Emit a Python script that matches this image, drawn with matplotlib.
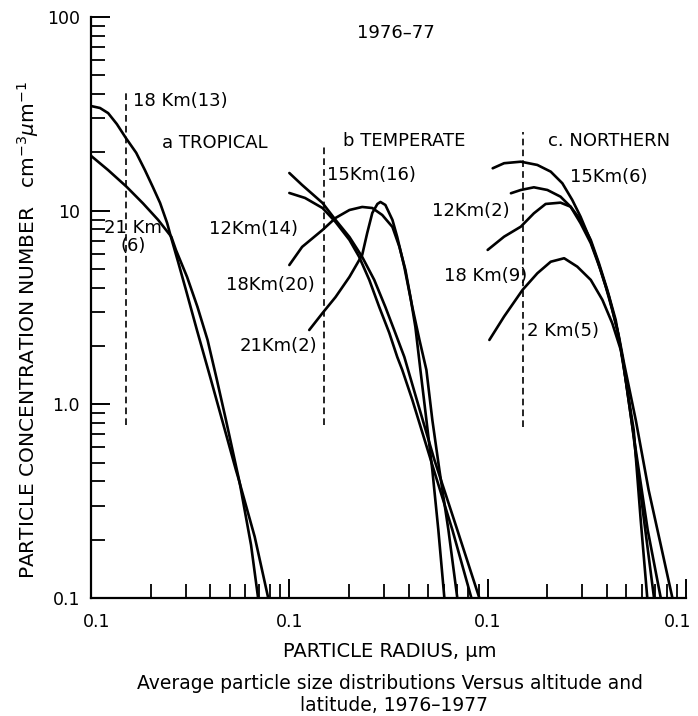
import matplotlib
matplotlib.use("Agg")
import matplotlib.pyplot as plt
from matplotlib.ticker import FixedLocator, FixedFormatter, LogLocator, NullFormatter
from matplotlib.transforms import ScaledTranslation

# particle radius (um) and concentration (cm^-3 um^-1), one list pair per curve
# a TROPICAL
trop_18_r = [0.100, 0.111, 0.122, 0.135, 0.150, 0.169, 0.187, 0.205, 0.223, 0.242, 0.253, 0.275,
             0.301, 0.342, 0.400, 0.458, 0.538, 0.551, 0.669, 0.781]
trop_18_n = [34.7, 33.9, 31.9, 28.0, 23.7, 19.9, 16.2, 13.25, 10.96, 8.64, 7.31, 5.43,
             3.90, 2.42, 1.37, 0.831, 0.458, 0.422, 0.207, 0.101]
trop_21_r = [0.100, 0.122, 0.151, 0.183, 0.218, 0.254, 0.268, 0.305, 0.344, 0.387, 0.429, 0.479,
             0.562, 0.641, 0.695]
trop_21_n = [19.2, 16.2, 13.3, 10.9, 8.96, 7.34, 6.27, 4.55, 3.19, 2.15, 1.37, 0.831,
             0.393, 0.188, 0.101]
# b TEMPERATE
temp_15_r = [0.100, 0.116, 0.147, 0.171, 0.201, 0.233, 0.268, 0.305, 0.342, 0.380, 0.432, 0.539,
             0.703, 0.908]
temp_15_n = [15.65, 13.57, 10.96, 8.96, 7.31, 5.77, 4.39, 3.18, 2.34, 1.757, 1.118, 0.516,
             0.2246, 0.100]
temp_12_r = [0.100, 0.120, 0.147, 0.171, 0.201, 0.225, 0.253, 0.284, 0.319, 0.350, 0.371, 0.417,
             0.526, 0.664, 0.828]
temp_12_n = [12.34, 11.63, 10.32, 8.74, 7.06, 5.77, 4.39, 3.18, 2.34, 1.757, 1.505, 1.054,
             0.486, 0.2246, 0.100]
temp_18_r = [0.100, 0.116, 0.147, 0.171, 0.201, 0.233, 0.262, 0.294, 0.331, 0.359, 0.385, 0.408,
             0.432, 0.458, 0.491, 0.526, 0.564, 0.605]
temp_18_n = [5.24, 6.50, 7.95, 9.17, 10.08, 10.45, 10.32, 9.50, 8.24, 6.50, 4.94, 3.58,
             2.51, 1.505, 0.831, 0.458, 0.2246, 0.100]
temp_21_r = [0.126, 0.147, 0.171, 0.201, 0.233, 0.247, 0.262, 0.278, 0.288, 0.305, 0.331, 0.350,
             0.380, 0.417, 0.453, 0.491, 0.526, 0.571, 0.634, 0.703]
temp_21_n = [2.42, 2.96, 3.58, 4.55, 5.91, 7.67, 9.73, 10.83, 11.09, 10.70, 8.96, 7.31,
             5.12, 3.18, 2.15, 1.505, 0.831, 0.458, 0.2246, 0.100]
# c NORTHERN
north_15_r = [0.106, 0.121, 0.147, 0.178, 0.208, 0.238, 0.267, 0.294, 0.324, 0.357, 0.394, 0.425,
              0.459, 0.487, 0.558, 0.648, 0.746, 0.854]
north_15_n = [16.55, 17.58, 17.9, 17.22, 15.9, 13.85, 11.36, 9.31, 7.34, 5.57, 4.05, 3.07,
              2.24, 1.63, 0.831, 0.361, 0.188, 0.100]
north_12_r = [0.131, 0.147, 0.171, 0.200, 0.233, 0.262, 0.294, 0.331, 0.371, 0.409, 0.451, 0.485,
              0.539, 0.605, 0.690]
north_12_n = [12.3, 12.79, 13.2, 12.79, 11.81, 10.48, 8.61, 6.79, 4.94, 3.60, 2.42, 1.597,
              0.738, 0.285, 0.100]
north_18_r = [0.100, 0.121, 0.147, 0.171, 0.196, 0.233, 0.262, 0.294, 0.331, 0.364, 0.401, 0.442,
              0.480, 0.558, 0.641, 0.746]
north_18_n = [6.27, 7.34, 8.27, 9.69, 10.83, 11.0, 10.48, 8.96, 7.06, 5.35, 3.90, 2.73,
              1.695, 0.582, 0.2246, 0.100]
north_2_r = [0.102, 0.121, 0.150, 0.178, 0.208, 0.243, 0.283, 0.331, 0.379, 0.425, 0.469, 0.497,
             0.545, 0.591, 0.638]
north_2_n = [2.15, 2.84, 3.90, 4.75, 5.45, 5.68, 5.14, 4.39, 3.46, 2.62, 1.91, 1.337,
             0.738, 0.253, 0.100]

# the three panels share one log axis, each shifted by a decade
panel_shift = [1, 10, 100]
panel_curves = [
    [(trop_18_r, trop_18_n), (trop_21_r, trop_21_n)],
    [(temp_15_r, temp_15_n), (temp_12_r, temp_12_n), (temp_18_r, temp_18_n), (temp_21_r, temp_21_n)],
    [(north_15_r, north_15_n), (north_12_r, north_12_n), (north_18_r, north_18_n), (north_2_r, north_2_n)],
]
# dashed marker at r = 0.15 um in each panel: (bottom, top) concentration
dash_r = 0.15
dash_span = [(0.78, 42.0), (0.78, 21.3), (0.76, 25.5)]

x_ticks = [0.1, 1, 10, 100]
x_ticklabels = ["0.1", "0.1", "0.1", "0.1"]
y_ticks = [0.1, 1, 10, 100]
y_ticklabels = ["0.1", "1.0", "10", "100"]

FS = 13

fig = plt.figure(figsize=(6.98, 7.16), dpi=100)
ax = fig.add_axes([91 / 698, 1 - 598 / 716, 595 / 698, 581 / 716])
ax.set_xscale("log"); ax.set_yscale("log")
ax.set_xlim(0.1, 100); ax.set_ylim(0.1, 100)

for shift, curves in zip(panel_shift, panel_curves):
    for r, n in curves:
        ax.plot([v * shift for v in r], n, color="black", lw=1.9, solid_capstyle="round",
                solid_joinstyle="round")
for shift, (lo, hi) in zip(panel_shift, dash_span):
    ax.plot([dash_r * shift] * 2, [lo, hi], color="black", lw=1.2, ls=(0, (4, 2.5)))

for s in ("top", "right"):
    ax.spines[s].set_visible(False)
for s in ("left", "bottom"):
    ax.spines[s].set_linewidth(1.6)

ax.xaxis.set_major_locator(FixedLocator(x_ticks))
ax.xaxis.set_major_formatter(FixedFormatter(x_ticklabels))
ax.xaxis.set_minor_locator(LogLocator(base=10, subs=range(2, 10)))
ax.xaxis.set_minor_formatter(NullFormatter())
ax.yaxis.set_major_locator(FixedLocator(y_ticks))
ax.yaxis.set_major_formatter(FixedFormatter(y_ticklabels))
ax.yaxis.set_minor_locator(LogLocator(base=10, subs=range(2, 10)))
ax.yaxis.set_minor_formatter(NullFormatter())
ax.tick_params(which="major", direction="in", length=14, width=1.4, labelsize=12.5)
ax.tick_params(which="minor", direction="in", length=10, width=1.3)
ax.tick_params(axis="x", which="major", pad=11)
ax.tick_params(axis="y", which="major", pad=8)

# first and last x labels sit slightly inward in the scan
xl = ax.get_xticklabels()
xl[0].set_transform(xl[0].get_transform() + ScaledTranslation(6 / 100, 0, fig.dpi_scale_trans))
xl[-1].set_transform(xl[-1].get_transform() + ScaledTranslation(-8 / 100, 0, fig.dpi_scale_trans))

T = ax.transAxes
ax.text(0.447, 0.9725, "1976\u201377", transform=T, fontsize=FS, va="center")
ax.text(0.0706, 0.8554, "18 Km(13)", transform=T, fontsize=FS, va="center")
ax.text(0.1193, 0.7831, "a TROPICAL", transform=T, fontsize=FS, va="center")
ax.text(0.0706, 0.6213, "21 Km\n(6)", transform=T, fontsize=FS, va="center", ha="center",
        linespacing=1.0)
ax.text(0.4235, 0.7866, "b TEMPERATE", transform=T, fontsize=FS, va="center")
ax.text(0.3966, 0.728, "15Km(16)", transform=T, fontsize=FS, va="center")
ax.text(0.348, 0.6351, "12Km(14)", transform=T, fontsize=FS, va="center", ha="right")
ax.text(0.3765, 0.5387, "18Km(20)", transform=T, fontsize=FS, va="center", ha="right")
ax.text(0.3798, 0.4337, "21Km(2)", transform=T, fontsize=FS, va="center", ha="right")
ax.text(0.768, 0.7866, "c. NORTHERN", transform=T, fontsize=FS, va="center")
ax.text(0.805, 0.7246, "15Km(6)", transform=T, fontsize=FS, va="center")
ax.text(0.7042, 0.6661, "12Km(2)", transform=T, fontsize=FS, va="center", ha="right")
ax.text(0.7328, 0.5542, "18 Km(9)", transform=T, fontsize=FS, va="center", ha="right")
ax.text(0.7328, 0.4596, "2 Km(5)", transform=T, fontsize=FS, va="center")

fig.text(0.040, 0.539, r"PARTICLE CONCENTRATION NUMBER   cm$^{-3}$$\mu$m$^{-1}$", rotation=90,
         fontsize=14.5, ha="center", va="center")
fig.text(0.5587, 0.0894, "PARTICLE RADIUS, \u03bcm", fontsize=14, ha="center", va="center")
fig.text(0.5587, 0.0447, "Average particle size distributions Versus altitude and",
         fontsize=13.5, ha="center", va="center")
fig.text(0.5640, 0.0140, "latitude, 1976\u20131977", fontsize=13.5, ha="center", va="center")

fig.savefig("out.png", dpi=100)
